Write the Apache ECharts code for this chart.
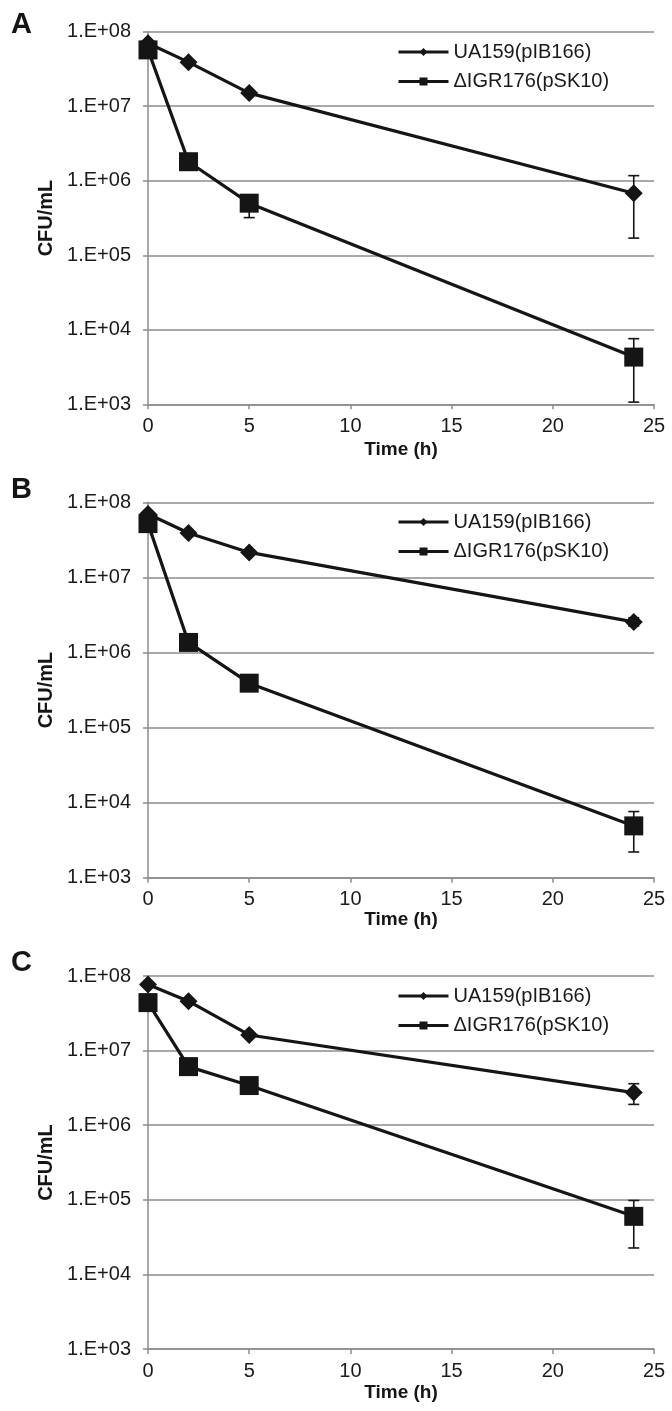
<!DOCTYPE html>
<html>
<head>
<meta charset="utf-8">
<script src="https://cdn.jsdelivr.net/npm/echarts@6/dist/echarts.min.js"></script>
<style>
html,body{margin:0;padding:0;background:#fff;}
#chart{width:672px;height:1411px;}
</style>
</head>
<body>
<div id="chart"></div>
<script>
// ---- data ----
const time = [0, 2, 5, 24];
const seriesNames = ['UA159(pIB166)', '\u0394IGR176(pSK10)'];
const panelLabels = ['A', 'B', 'C'];

// Panel A
const uaA = [7.0e7, 3.9e7, 1.5e7, 6.8e5];
const uaA_low = [null, null, null, 1.7e5];
const uaA_high = [null, null, null, 1.17e6];
const igrA = [5.7e7, 1.8e6, 5.0e5, 4.3e3];
const igrA_low = [null, null, 3.2e5, 1.07e3];
const igrA_high = [null, null, 6.0e5, 7.6e3];

// Panel B
const uaB = [7.0e7, 3.9e7, 2.15e7, 2.55e6];
const uaB_low = [null, null, null, 2.25e6];
const uaB_high = [null, null, null, 2.9e6];
const igrB = [5.2e7, 1.36e6, 3.9e5, 4.9e3];
const igrB_low = [null, null, null, 2.2e3];
const igrB_high = [null, null, null, 7.6e3];

// Panel C
const uaC = [7.7e7, 4.6e7, 1.62e7, 2.74e6];
const uaC_low = [null, null, null, 1.9e6];
const uaC_high = [null, null, null, 3.6e6];
const igrC = [4.4e7, 6.1e6, 3.4e6, 6.0e4];
const igrC_low = [null, null, null, 2.26e4];
const igrC_high = [null, null, null, 9.8e4];

const xTicks = [0, 5, 10, 15, 20, 25];
const yMin = 1e3, yMax = 1e8;

// ---- layout ----
const FONT = "'Liberation Sans', Arial, sans-serif";
const INK = '#151515';
const GRID_GRAY = '#8c8c8c';
const panels = [
  {ua: uaA, uaL: uaA_low, uaH: uaA_high, igr: igrA, igrL: igrA_low, igrH: igrA_high,
   top: 31.7, height: 372.6, letterTop: 5, legendTop: 42, xGap: 36},
  {ua: uaB, uaL: uaB_low, uaH: uaB_high, igr: igrB, igrL: igrB_low, igrH: igrB_high,
   top: 502.3, height: 375.4, letterTop: 470, legendTop: 512, xGap: 33},
  {ua: uaC, uaL: uaC_low, uaH: uaC_high, igr: igrC, igrL: igrC_low, igrH: igrC_high,
   top: 976, height: 373, letterTop: 943, legendTop: 986, xGap: 34}
];

function pts(vals) { return time.map((t, i) => [t, vals[i]]); }
function errPts(low, high) {
  const out = [];
  time.forEach((t, i) => { if (low[i] != null) out.push([t, low[i], high[i]]); });
  return out;
}
function errRender(params, api) {
  const x = api.value(0);
  const lo = api.coord([x, api.value(1)]);
  const hi = api.coord([x, api.value(2)]);
  const cap = 5.5;
  const style = {stroke: INK, lineWidth: 1.6, fill: null};
  return {type: 'group', children: [
    {type: 'line', shape: {x1: lo[0], y1: lo[1], x2: hi[0], y2: hi[1]}, style},
    {type: 'line', shape: {x1: lo[0] - cap, y1: lo[1], x2: lo[0] + cap, y2: lo[1]}, style},
    {type: 'line', shape: {x1: hi[0] - cap, y1: hi[1], x2: hi[0] + cap, y2: hi[1]}, style}
  ]};
}

const grid = [], xAxis = [], yAxis = [], series = [], legend = [], title = [];
panels.forEach((p, k) => {
  grid.push({left: 148, width: 506, top: p.top, height: p.height});
  title.push({text: panelLabels[k], left: 6, top: p.letterTop,
    textStyle: {fontFamily: FONT, fontSize: 29, fontWeight: 'bold', color: INK}});
  xAxis.push({
    type: 'value', gridIndex: k, min: 0, max: 25, interval: 5,
    name: 'Time (h)', nameLocation: 'middle', nameGap: p.xGap,
    nameTextStyle: {fontFamily: FONT, fontSize: 19, fontWeight: 'bold', color: INK},
    axisLine: {show: true, lineStyle: {color: GRID_GRAY, width: 1.5}},
    axisTick: {show: true, length: 5, inside: false, lineStyle: {color: GRID_GRAY, width: 1.5}},
    axisLabel: {fontFamily: FONT, fontSize: 20, color: '#1a1a1a', margin: 12,
      formatter: v => xTicks.includes(v) ? String(v) : ''},
    splitLine: {show: false}
  });
  yAxis.push({
    type: 'log', logBase: 10, gridIndex: k, min: yMin, max: yMax, interval: 1,
    name: 'CFU/mL', nameLocation: 'middle', nameRotate: 90, nameGap: 92,
    nameTextStyle: {fontFamily: FONT, fontSize: 20, fontWeight: 'bold', color: INK},
    axisLine: {show: true, lineStyle: {color: GRID_GRAY, width: 1.5}},
    axisTick: {show: true, length: 5, lineStyle: {color: GRID_GRAY, width: 1.5}},
    axisLabel: {fontFamily: FONT, fontSize: 20, color: '#1a1a1a', margin: 17,
      formatter: v => '1.E+' + String(Math.round(Math.log10(v))).padStart(2, '0')},
    splitLine: {show: true, lineStyle: {color: GRID_GRAY, width: 1.5}}
  });
  legend.push({
    data: seriesNames, orient: 'vertical', left: 397, top: p.legendTop, padding: 0,
    itemWidth: 50, itemHeight: 10, itemGap: 9.5, selectedMode: false,
    lineStyle: {width: 3, color: INK},
    textStyle: {fontFamily: FONT, fontSize: 20, color: '#1a1a1a', lineHeight: 20, padding: [0, 0, 0, 0]}
  });
  series.push({
    type: 'custom', name: 'errUA' + k, xAxisIndex: k, yAxisIndex: k, z: 1,
    renderItem: errRender, encode: {x: 0, y: [1, 2]}, data: errPts(p.uaL, p.uaH)
  });
  series.push({
    type: 'custom', name: 'errIGR' + k, xAxisIndex: k, yAxisIndex: k, z: 1,
    renderItem: errRender, encode: {x: 0, y: [1, 2]}, data: errPts(p.igrL, p.igrH)
  });
  series.push({
    type: 'line', name: seriesNames[0], xAxisIndex: k, yAxisIndex: k, z: 3,
    symbol: 'diamond', symbolSize: 18, showAllSymbol: true,
    lineStyle: {color: INK, width: 3.2}, itemStyle: {color: INK},
    data: pts(p.ua)
  });
  series.push({
    type: 'line', name: seriesNames[1], xAxisIndex: k, yAxisIndex: k, z: 4,
    symbol: 'rect', symbolSize: 19, showAllSymbol: true,
    lineStyle: {color: INK, width: 3.2}, itemStyle: {color: INK},
    data: pts(p.igr)
  });
});

const chart = echarts.init(document.getElementById('chart'), null, {renderer: 'canvas'});
chart.setOption({
  animation: false,
  backgroundColor: '#ffffff',
  title, legend, grid, xAxis, yAxis, series
});
</script>
</body>
</html>
